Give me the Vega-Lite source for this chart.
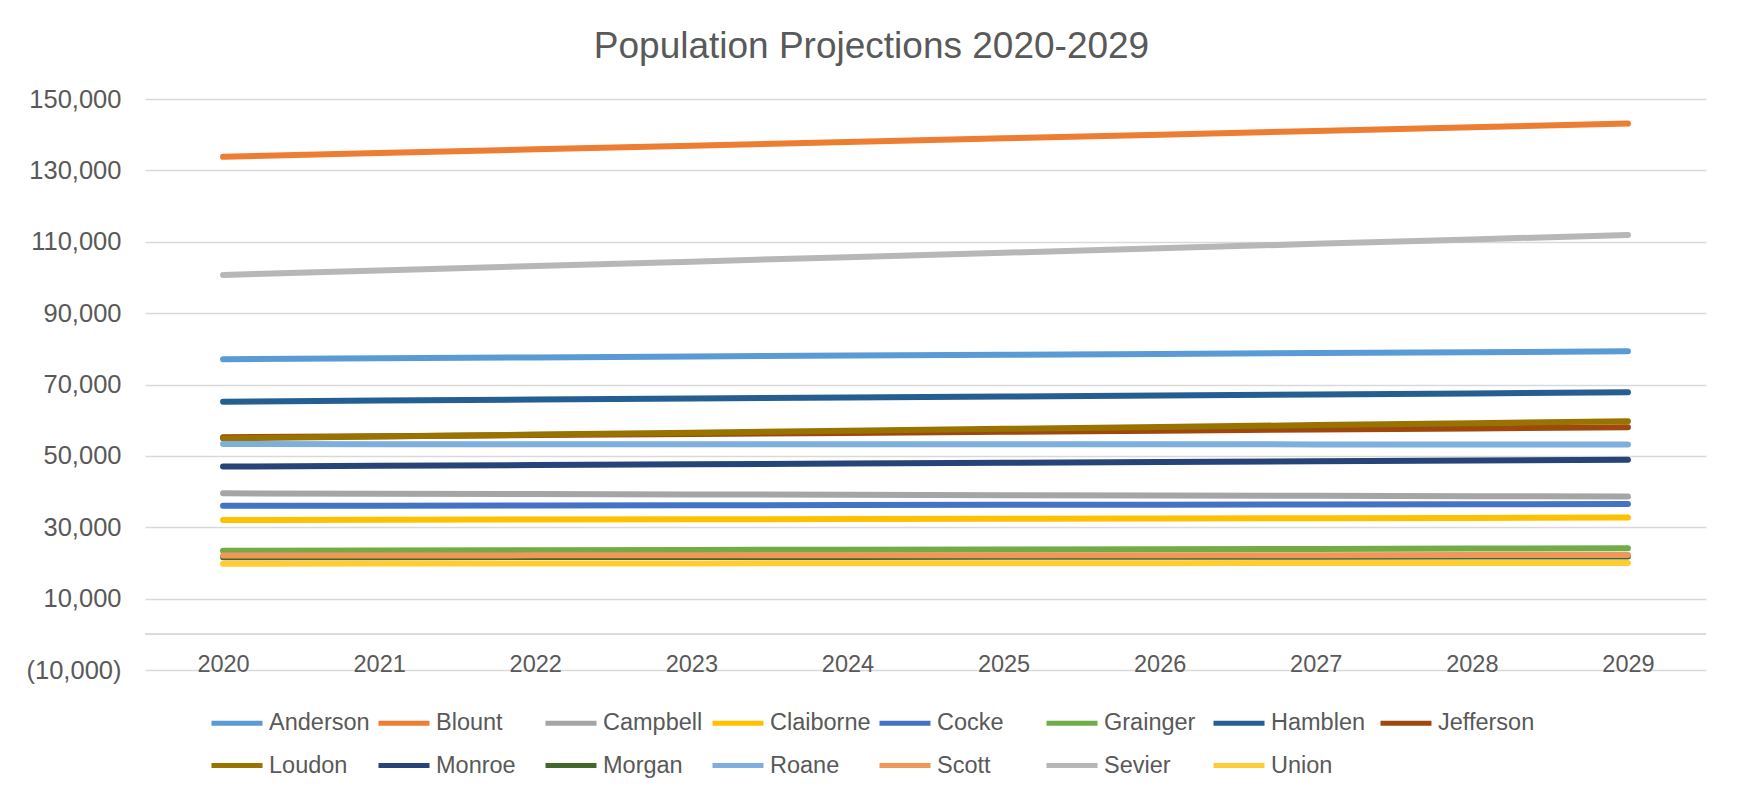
{
  "$schema": "https://vega.github.io/schema/vega-lite/v6.json",
  "width": 1561,
  "height": 571,
  "autosize": {"type": "none"},
  "padding": {"left": 145, "top": 99, "right": 31, "bottom": 126},
  "background": "#FFFFFF",
  "title": {
    "text": "Population Projections 2020-2029",
    "font": "Liberation Sans",
    "fontSize": 37,
    "fontWeight": "normal",
    "color": "#595959",
    "anchor": "middle",
    "baseline": "alphabetic",
    "dx": -54,
    "offset": -8
  },
  "config": {
    "view": {"stroke": null},
    "font": "Liberation Sans"
  },
  "data": {
    "values": [
      {"county": "Anderson", "year": "2020", "pop": 77100},
      {"county": "Anderson", "year": "2021", "pop": 77350},
      {"county": "Anderson", "year": "2022", "pop": 77600},
      {"county": "Anderson", "year": "2023", "pop": 77850},
      {"county": "Anderson", "year": "2024", "pop": 78100},
      {"county": "Anderson", "year": "2025", "pop": 78350},
      {"county": "Anderson", "year": "2026", "pop": 78550},
      {"county": "Anderson", "year": "2027", "pop": 78800},
      {"county": "Anderson", "year": "2028", "pop": 79050},
      {"county": "Anderson", "year": "2029", "pop": 79300},
      {"county": "Blount", "year": "2020", "pop": 133800},
      {"county": "Blount", "year": "2021", "pop": 134850},
      {"county": "Blount", "year": "2022", "pop": 135900},
      {"county": "Blount", "year": "2023", "pop": 136900},
      {"county": "Blount", "year": "2024", "pop": 137950},
      {"county": "Blount", "year": "2025", "pop": 139000},
      {"county": "Blount", "year": "2026", "pop": 140000},
      {"county": "Blount", "year": "2027", "pop": 141050},
      {"county": "Blount", "year": "2028", "pop": 142050},
      {"county": "Blount", "year": "2029", "pop": 143100},
      {"county": "Campbell", "year": "2020", "pop": 39500},
      {"county": "Campbell", "year": "2021", "pop": 39400},
      {"county": "Campbell", "year": "2022", "pop": 39300},
      {"county": "Campbell", "year": "2023", "pop": 39200},
      {"county": "Campbell", "year": "2024", "pop": 39100},
      {"county": "Campbell", "year": "2025", "pop": 39000},
      {"county": "Campbell", "year": "2026", "pop": 38900},
      {"county": "Campbell", "year": "2027", "pop": 38800},
      {"county": "Campbell", "year": "2028", "pop": 38700},
      {"county": "Campbell", "year": "2029", "pop": 38600},
      {"county": "Claiborne", "year": "2020", "pop": 32000},
      {"county": "Claiborne", "year": "2021", "pop": 32080},
      {"county": "Claiborne", "year": "2022", "pop": 32150},
      {"county": "Claiborne", "year": "2023", "pop": 32230},
      {"county": "Claiborne", "year": "2024", "pop": 32300},
      {"county": "Claiborne", "year": "2025", "pop": 32380},
      {"county": "Claiborne", "year": "2026", "pop": 32460},
      {"county": "Claiborne", "year": "2027", "pop": 32540},
      {"county": "Claiborne", "year": "2028", "pop": 32620},
      {"county": "Claiborne", "year": "2029", "pop": 32700},
      {"county": "Cocke", "year": "2020", "pop": 36000},
      {"county": "Cocke", "year": "2021", "pop": 36050},
      {"county": "Cocke", "year": "2022", "pop": 36100},
      {"county": "Cocke", "year": "2023", "pop": 36170},
      {"county": "Cocke", "year": "2024", "pop": 36220},
      {"county": "Cocke", "year": "2025", "pop": 36280},
      {"county": "Cocke", "year": "2026", "pop": 36330},
      {"county": "Cocke", "year": "2027", "pop": 36390},
      {"county": "Cocke", "year": "2028", "pop": 36440},
      {"county": "Cocke", "year": "2029", "pop": 36500},
      {"county": "Grainger", "year": "2020", "pop": 23400},
      {"county": "Grainger", "year": "2021", "pop": 23480},
      {"county": "Grainger", "year": "2022", "pop": 23550},
      {"county": "Grainger", "year": "2023", "pop": 23630},
      {"county": "Grainger", "year": "2024", "pop": 23710},
      {"county": "Grainger", "year": "2025", "pop": 23790},
      {"county": "Grainger", "year": "2026", "pop": 23870},
      {"county": "Grainger", "year": "2027", "pop": 23940},
      {"county": "Grainger", "year": "2028", "pop": 24020},
      {"county": "Grainger", "year": "2029", "pop": 24100},
      {"county": "Hamblen", "year": "2020", "pop": 65200},
      {"county": "Hamblen", "year": "2021", "pop": 65490},
      {"county": "Hamblen", "year": "2022", "pop": 65780},
      {"county": "Hamblen", "year": "2023", "pop": 66070},
      {"county": "Hamblen", "year": "2024", "pop": 66360},
      {"county": "Hamblen", "year": "2025", "pop": 66640},
      {"county": "Hamblen", "year": "2026", "pop": 66930},
      {"county": "Hamblen", "year": "2027", "pop": 67220},
      {"county": "Hamblen", "year": "2028", "pop": 67510},
      {"county": "Hamblen", "year": "2029", "pop": 67800},
      {"county": "Jefferson", "year": "2020", "pop": 55200},
      {"county": "Jefferson", "year": "2021", "pop": 55510},
      {"county": "Jefferson", "year": "2022", "pop": 55820},
      {"county": "Jefferson", "year": "2023", "pop": 56130},
      {"county": "Jefferson", "year": "2024", "pop": 56440},
      {"county": "Jefferson", "year": "2025", "pop": 56760},
      {"county": "Jefferson", "year": "2026", "pop": 57070},
      {"county": "Jefferson", "year": "2027", "pop": 57380},
      {"county": "Jefferson", "year": "2028", "pop": 57690},
      {"county": "Jefferson", "year": "2029", "pop": 58000},
      {"county": "Loudon", "year": "2020", "pop": 54900},
      {"county": "Loudon", "year": "2021", "pop": 55430},
      {"county": "Loudon", "year": "2022", "pop": 55970},
      {"county": "Loudon", "year": "2023", "pop": 56500},
      {"county": "Loudon", "year": "2024", "pop": 57030},
      {"county": "Loudon", "year": "2025", "pop": 57570},
      {"county": "Loudon", "year": "2026", "pop": 58100},
      {"county": "Loudon", "year": "2027", "pop": 58630},
      {"county": "Loudon", "year": "2028", "pop": 59170},
      {"county": "Loudon", "year": "2029", "pop": 59700},
      {"county": "Monroe", "year": "2020", "pop": 47000},
      {"county": "Monroe", "year": "2021", "pop": 47210},
      {"county": "Monroe", "year": "2022", "pop": 47420},
      {"county": "Monroe", "year": "2023", "pop": 47630},
      {"county": "Monroe", "year": "2024", "pop": 47840},
      {"county": "Monroe", "year": "2025", "pop": 48060},
      {"county": "Monroe", "year": "2026", "pop": 48270},
      {"county": "Monroe", "year": "2027", "pop": 48480},
      {"county": "Monroe", "year": "2028", "pop": 48690},
      {"county": "Monroe", "year": "2029", "pop": 48900},
      {"county": "Morgan", "year": "2020", "pop": 21600},
      {"county": "Morgan", "year": "2021", "pop": 21620},
      {"county": "Morgan", "year": "2022", "pop": 21640},
      {"county": "Morgan", "year": "2023", "pop": 21670},
      {"county": "Morgan", "year": "2024", "pop": 21690},
      {"county": "Morgan", "year": "2025", "pop": 21710},
      {"county": "Morgan", "year": "2026", "pop": 21730},
      {"county": "Morgan", "year": "2027", "pop": 21760},
      {"county": "Morgan", "year": "2028", "pop": 21780},
      {"county": "Morgan", "year": "2029", "pop": 21800},
      {"county": "Roane", "year": "2020", "pop": 53300},
      {"county": "Roane", "year": "2021", "pop": 53290},
      {"county": "Roane", "year": "2022", "pop": 53280},
      {"county": "Roane", "year": "2023", "pop": 53270},
      {"county": "Roane", "year": "2024", "pop": 53260},
      {"county": "Roane", "year": "2025", "pop": 53240},
      {"county": "Roane", "year": "2026", "pop": 53230},
      {"county": "Roane", "year": "2027", "pop": 53220},
      {"county": "Roane", "year": "2028", "pop": 53210},
      {"county": "Roane", "year": "2029", "pop": 53200},
      {"county": "Scott", "year": "2020", "pop": 22100},
      {"county": "Scott", "year": "2021", "pop": 22110},
      {"county": "Scott", "year": "2022", "pop": 22120},
      {"county": "Scott", "year": "2023", "pop": 22130},
      {"county": "Scott", "year": "2024", "pop": 22140},
      {"county": "Scott", "year": "2025", "pop": 22160},
      {"county": "Scott", "year": "2026", "pop": 22170},
      {"county": "Scott", "year": "2027", "pop": 22180},
      {"county": "Scott", "year": "2028", "pop": 22190},
      {"county": "Scott", "year": "2029", "pop": 22200},
      {"county": "Sevier", "year": "2020", "pop": 100700},
      {"county": "Sevier", "year": "2021", "pop": 101950},
      {"county": "Sevier", "year": "2022", "pop": 103190},
      {"county": "Sevier", "year": "2023", "pop": 104430},
      {"county": "Sevier", "year": "2024", "pop": 105680},
      {"county": "Sevier", "year": "2025", "pop": 106920},
      {"county": "Sevier", "year": "2026", "pop": 108170},
      {"county": "Sevier", "year": "2027", "pop": 109410},
      {"county": "Sevier", "year": "2028", "pop": 110660},
      {"county": "Sevier", "year": "2029", "pop": 111900},
      {"county": "Union", "year": "2020", "pop": 19800},
      {"county": "Union", "year": "2021", "pop": 19820},
      {"county": "Union", "year": "2022", "pop": 19840},
      {"county": "Union", "year": "2023", "pop": 19870},
      {"county": "Union", "year": "2024", "pop": 19890},
      {"county": "Union", "year": "2025", "pop": 19910},
      {"county": "Union", "year": "2026", "pop": 19930},
      {"county": "Union", "year": "2027", "pop": 19960},
      {"county": "Union", "year": "2028", "pop": 19980},
      {"county": "Union", "year": "2029", "pop": 20000}
    ]
  },
  "layer": [
    {
      "mark": {"type": "rule", "color": "#D9D9D9", "strokeWidth": 1.3},
      "encoding": {"y": {"datum": 0, "type": "quantitative"}}
    },
    {
      "mark": {"type": "line", "strokeWidth": 6, "strokeCap": "round", "strokeJoin": "round"},
      "encoding": {
        "x": {
          "field": "year",
          "type": "ordinal",
          "scale": {"type": "point", "padding": 0.5},
          "axis": {
            "title": null,
            "labelAngle": 0,
            "domain": false,
            "ticks": false,
            "tickSize": 0,
            "grid": false,
            "labelFont": "Liberation Sans",
            "labelFontSize": 23.5,
            "labelColor": "#595959",
            "labelBaseline": "alphabetic",
            "labelPadding": 1
          }
        },
        "y": {
          "field": "pop",
          "type": "quantitative",
          "scale": {"domain": [-10000, 150000], "nice": false, "zero": false},
          "axis": {
            "title": null,
            "values": [-10000, 10000, 30000, 50000, 70000, 90000, 110000, 130000, 150000],
            "labelExpr": "datum.value < 0 ? '(' + format(-datum.value, ',') + ')' : format(datum.value, ',') + '\u00a0'",
            "domain": false,
            "ticks": false,
            "tickSize": 0,
            "grid": true,
            "gridColor": "#D9D9D9",
            "gridWidth": 1.3,
            "labelFont": "Liberation Sans",
            "labelFontSize": 25.5,
            "labelColor": "#595959",
            "labelPadding": 24,
            "labelBaseline": "middle"
          }
        },
        "color": {
          "field": "county",
          "type": "nominal",
          "scale": {
            "domain": ["Anderson", "Blount", "Campbell", "Claiborne", "Cocke", "Grainger", "Hamblen", "Jefferson", "Loudon", "Monroe", "Morgan", "Roane", "Scott", "Sevier", "Union"],
            "range": ["#5B9BD5", "#ED7D31", "#A5A5A5", "#FFC000", "#4472C4", "#70AD47", "#255E91", "#9E480E", "#997300", "#264478", "#43682B", "#7CAFDD", "#F1975A", "#B7B7B7", "#FFCD33"]
          },
          "legend": {
            "title": null,
            "orient": "none",
            "legendX": 64,
            "legendY": 596,
            "direction": "horizontal",
            "columns": 8,
            "gridAlign": "all",
            "symbolType": "stroke",
            "symbolSize": 2601,
            "symbolStrokeWidth": 5,
            "labelFont": "Liberation Sans",
            "labelFontSize": 23.5,
            "labelColor": "#595959",
            "labelOffset": 4,
            "columnPadding": -2,
            "rowPadding": 2.5,
            "labelLimit": 300
          }
        }
      }
    }
  ]
}
